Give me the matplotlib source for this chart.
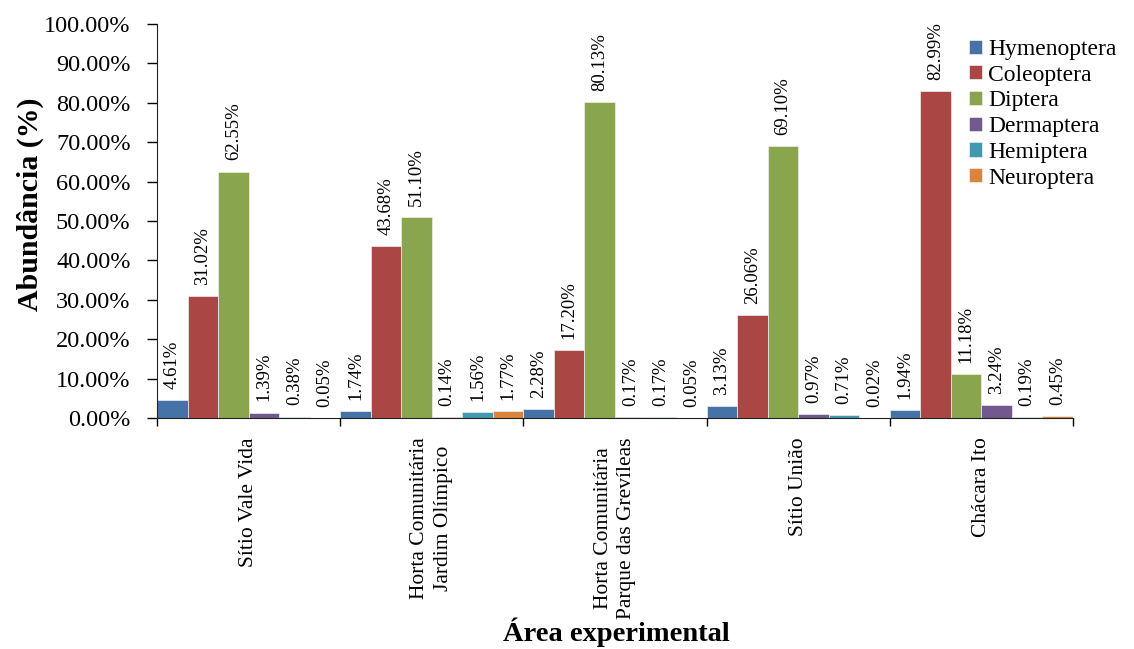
""" Abundância relativa das ordens de insetos por área experimental """
import numpy as np
import matplotlib
import matplotlib.pyplot as plt
from matplotlib.ticker import FuncFormatter, FixedLocator

matplotlib.use('Agg')
plt.rcParams['font.family'] = ['Liberation Serif', 'DejaVu Serif']

areas = ['Sítio Vale Vida',
         'Horta Comunitária\nJardim Olímpico',
         'Horta Comunitária\nParque das Grevíleas',
         'Sítio União',
         'Chácara Ito']
orders = ['Hymenoptera', 'Coleoptera', 'Diptera', 'Dermaptera', 'Hemiptera', 'Neuroptera']
hymenoptera = [4.61, 1.74, 2.28, 3.13, 1.94]
coleoptera = [31.02, 43.68, 17.20, 26.06, 82.99]
diptera = [62.55, 51.10, 80.13, 69.10, 11.18]
dermaptera = [1.39, 0.14, 0.17, 0.97, 3.24]
hemiptera = [0.38, 1.56, 0.17, 0.71, 0.19]
neuroptera = [0.05, 1.77, 0.05, 0.02, 0.45]
series = [hymenoptera, coleoptera, diptera, dermaptera, hemiptera, neuroptera]
colors = ['#4572A7', '#AA4643', '#89A54E', '#71588F', '#4198AF', '#DB843D']

fig = plt.figure(figsize=(11.34, 6.49), dpi=100)
ax = fig.add_axes([157/1134, 1-418/649, (1073-157)/1134, (418-24)/649])

x = np.arange(len(areas))
width = 1/6
for i, (vals, name, col) in enumerate(zip(series, orders, colors)):
    pos = x + (i - 2.5)*width
    ax.bar(pos, vals, width, color=col, edgecolor='#eeeeee', linewidth=0.5, label=name)
    for xb, v in zip(pos, vals):
        ax.annotate(f'{v:.2f}%', (xb, v), xytext=(0, 8), textcoords='offset points',
                    rotation=90, ha='center', va='bottom', fontsize=13.5)

ax.set_xlim(-0.5, 4.5)
ax.set_ylim(0, 100)
ax.set_yticks(np.arange(0, 101, 10))
ax.yaxis.set_major_formatter(FuncFormatter(lambda v, p: f'{v:.2f}%'))
ax.tick_params(axis='y', labelsize=17.5, length=7, width=1, pad=12)

# group boundaries get the tick marks, names sit at the group centres
ax.xaxis.set_major_locator(FixedLocator(np.arange(-0.5, 5, 1)))
ax.xaxis.set_major_formatter(FuncFormatter(lambda v, p: ''))
ax.xaxis.set_minor_locator(FixedLocator(x))
ax.set_xticklabels(areas, minor=True, rotation=90, fontsize=15.5,
                   multialignment='center', linespacing=1.35)
ax.tick_params(axis='x', which='major', length=6, width=1)
ax.tick_params(axis='x', which='minor', length=0, pad=14)

for side in ['top', 'right']:
    ax.spines[side].set_visible(False)
for side in ['left', 'bottom']:
    ax.spines[side].set_color('#222222')

fig.text(30/1134, 1-204/649, 'Abundância (%)', rotation=90, ha='center', va='center',
         fontsize=21.5, fontweight='bold')
fig.text(616/1134, 1-632/649, 'Área experimental', ha='center', va='center',
         fontsize=20.5, fontweight='bold')

fig.legend(loc='upper left', bbox_to_anchor=(969/1134, 1-39/649), frameon=False,
           fontsize=17, handlelength=0.55, handleheight=0.55, handletextpad=0.25,
           labelspacing=0.2, borderpad=0, borderaxespad=0)

fig.savefig('out.png', dpi=100)
plt.close()
